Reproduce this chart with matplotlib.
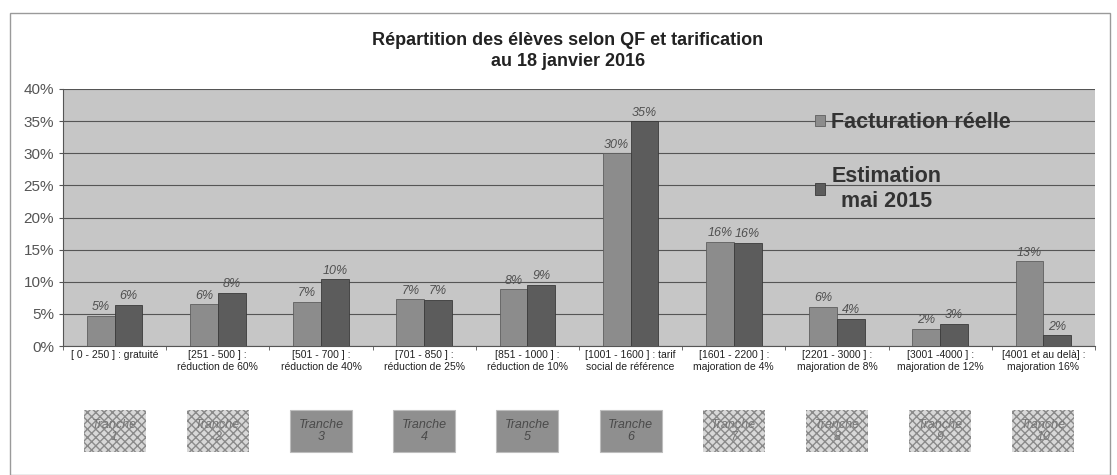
import matplotlib
matplotlib.use("Agg")
import matplotlib.pyplot as plt
from matplotlib.patches import Rectangle
from matplotlib.ticker import FuncFormatter
import matplotlib.transforms as mtransforms
import numpy as np

plt.rcParams["font.family"] = ["Liberation Sans", "DejaVu Sans"]

categories = ["[ 0 - 250 ] : gratuité",
              "[251 - 500 ] :\nréduction de 60%",
              "[501 - 700 ] :\nréduction de 40%",
              "[701 - 850 ] :\nréduction de 25%",
              "[851 - 1000 ] :\nréduction de 10%",
              "[1001 - 1600 ] : tarif\nsocial de référence",
              "[1601 - 2200 ] :\nmajoration de 4%",
              "[2201 - 3000 ] :\nmajoration de 8%",
              "[3001 -4000 ] :\nmajoration de 12%",
              "[4001 et au delà] :\nmajoration 16%"]
facturation = [4.7, 6.5, 6.9, 7.3, 8.8, 30.0, 16.2, 6.1, 2.7, 13.2]
estimation = [6.4, 8.3, 10.4, 7.2, 9.5, 35.0, 16.1, 4.2, 3.5, 1.7]
facturation_labels = ["5%", "6%", "7%", "7%", "8%", "30%", "16%", "6%", "2%", "13%"]
estimation_labels = ["6%", "8%", "10%", "7%", "9%", "35%", "16%", "4%", "3%", "2%"]
tranches = ["Tranche\n1", "Tranche\n2", "Tranche\n3", "Tranche\n4", "Tranche\n5",
            "Tranche\n6", "Tranche\n7", "Tranche\n8", "Tranche\n9", "Tranche\n10"]
tranche_hatched = [True, True, False, False, False, False, True, True, True, True]

fig = plt.figure(figsize=(11.17, 4.75), dpi=100)
fig.patch.set_facecolor("white")

# outer frame
fig.add_artist(Rectangle((10/1117, 0.0), 1100/1117, (475-13)/475, transform=fig.transFigure,
                         fill=False, edgecolor="#9a9a9a", linewidth=1.0))

ax = fig.add_axes([63/1117, (475-346)/475, (1095-63)/1117, (346-89)/475])
ax.set_facecolor("#c6c6c6")

x = np.arange(len(categories))
w = 0.27
b1 = ax.bar(x - w/2, facturation, w, color="#8c8c8c", edgecolor="#5e5e5e", linewidth=0.6,
            label="Facturation réelle", zorder=3)
b2 = ax.bar(x + w/2, estimation, w, color="#5c5c5c", edgecolor="#3a3a3a", linewidth=0.6,
            label="Estimation\nmai 2015", zorder=3)

for rects, vals, labs in ((b1, facturation, facturation_labels), (b2, estimation, estimation_labels)):
    for r, v, t in zip(rects, vals, labs):
        ax.text(r.get_x() + r.get_width()/2, v + 0.4, t, ha="center", va="bottom",
                fontsize=9, style="italic", color="#505050", zorder=4)

ax.set_xlim(-0.5, len(categories) - 0.5)
ax.set_ylim(0, 40)
ax.set_yticks(np.arange(0, 41, 5))
ax.yaxis.set_major_formatter(FuncFormatter(lambda v, p: f"{int(v)}%"))
ax.grid(axis="y", color="#555555", linewidth=0.8, zorder=1)
ax.set_xticks(x)
ax.set_xticklabels(categories, fontsize=7.5, color="#222222")
ax.set_xticks(np.arange(-0.5, len(categories), 1), minor=True)
ax.tick_params(axis="x", which="major", length=0, pad=3)
ax.tick_params(axis="x", which="minor", length=3, color="#555555")
ax.tick_params(axis="y", labelsize=11, colors="#555555", length=3)
for s in ["top", "right"]:
    ax.spines[s].set_visible(False)
ax.spines["left"].set_color("#555555")
ax.spines["bottom"].set_color("#555555")

leg = ax.legend(loc="upper left", bbox_to_anchor=(0.71, 0.985), frameon=False,
                prop={"size": 15.5, "weight": "bold"}, labelcolor="#333333",
                handlelength=0.45, handleheight=0.45, handletextpad=0.3, labelspacing=1.5)
leg.get_texts()[1].set_linespacing(1.25)
leg.get_texts()[1].set_multialignment("center")

fig.text(568/1117, 1 - 51/475, "Répartition des élèves selon QF et tarification\nau 18 janvier 2016",
         ha="center", va="center", fontsize=13, fontweight="bold", color="#222222", linespacing=1.3)

# tranche boxes
trans = mtransforms.blended_transform_factory(ax.transData, fig.transFigure)
bw = 0.6
by0 = 1 - 452/475
bh = 42/475
for i, (t, h) in enumerate(zip(tranches, tranche_hatched)):
    if h:
        rect = Rectangle((i - bw/2, by0), bw, bh, transform=trans, facecolor="#d8d8d8",
                         edgecolor="#8a8a8a", hatch="xxxx", linewidth=0.0, clip_on=False)
    else:
        rect = Rectangle((i - bw/2, by0), bw, bh, transform=trans, facecolor="#8f8f8f",
                         edgecolor="#bdbdbd", linewidth=0.8, clip_on=False)
    fig.add_artist(rect)
    fig.text(i, by0 + bh/2, t, transform=trans, ha="center", va="center", fontsize=9,
             style="italic", color="#4a4a4a" if not h else "#777777", linespacing=1.1)

fig.savefig("out.png", dpi=100)
